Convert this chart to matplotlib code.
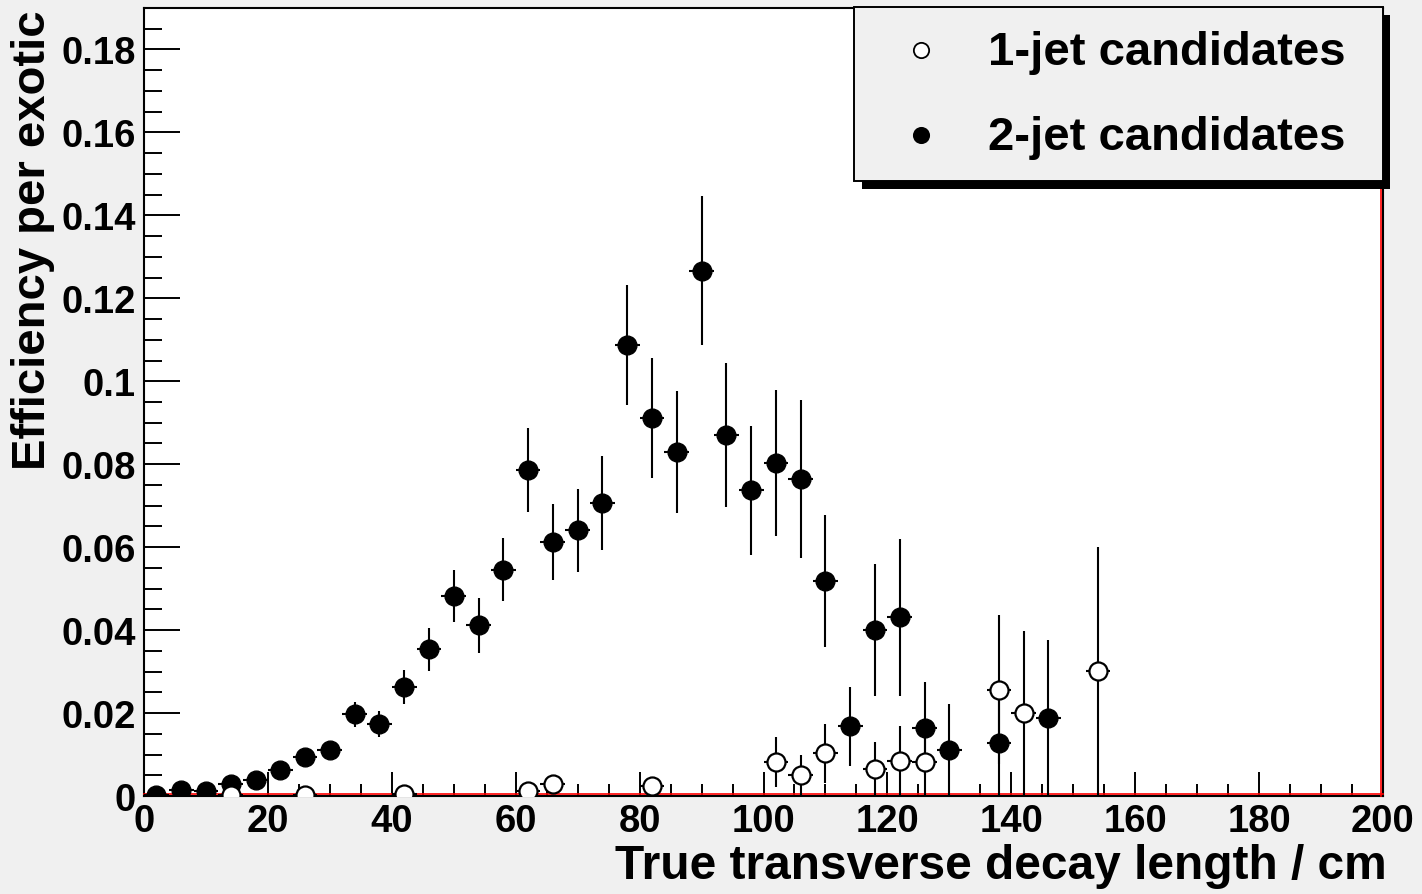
import matplotlib
matplotlib.use("Agg")
import matplotlib.pyplot as plt
from matplotlib.ticker import MultipleLocator, FuncFormatter
from matplotlib.patches import Rectangle
from matplotlib.lines import Line2D

# ---- data: bin centres (cm), efficiency and its uncertainty ----
half_bin = 2.0

x_two = [2, 6, 10, 14, 18, 22, 26, 30, 34, 38, 42, 46, 50, 54, 58, 62, 66, 70, 74,
         78, 82, 86, 90, 94, 98, 102, 106, 110, 114, 118, 122, 126, 130, 138, 146]
y_two = [0.0002, 0.0014, 0.0011, 0.0030, 0.0038, 0.0063, 0.0093, 0.0112, 0.0197,
         0.0174, 0.0263, 0.0354, 0.0482, 0.0412, 0.0545, 0.0786, 0.0612, 0.0641,
         0.0706, 0.1087, 0.0911, 0.0829, 0.1267, 0.0870, 0.0737, 0.0802, 0.0764,
         0.0518, 0.0168, 0.0400, 0.0431, 0.0163, 0.0112, 0.0128, 0.0188]
e_two = [0.0002, 0.0006, 0.0005, 0.0009, 0.0010, 0.0012, 0.0014, 0.0017, 0.0030,
         0.0032, 0.0041, 0.0052, 0.0063, 0.0066, 0.0076, 0.0101, 0.0092, 0.0100,
         0.0113, 0.0145, 0.0145, 0.0147, 0.0180, 0.0173, 0.0155, 0.0176, 0.0190,
         0.0159, 0.0095, 0.0160, 0.0189, 0.0112, 0.0111, 0.0128, 0.0188]

x_one = [14, 26, 42, 62, 66, 82, 102, 106, 110, 118, 122, 126, 138, 142, 154]
y_one = [0.0002, 0.0003, 0.0005, 0.0012, 0.0029, 0.0024, 0.0082, 0.0050, 0.0103,
         0.0066, 0.0084, 0.0081, 0.0256, 0.0200, 0.0301]
e_one = [0.0002, 0.0003, 0.0005, 0.0012, 0.0010, 0.0012, 0.0060, 0.0050, 0.0071,
         0.0065, 0.0085, 0.0081, 0.0180, 0.0198, 0.0300]

labels = ["1-jet candidates", "2-jet candidates"]
x_title = "True transverse decay length / cm"
y_title = "Efficiency per exotic"

plt.rcParams["font.family"] = ["Liberation Sans", "DejaVu Sans"]
plt.rcParams["font.weight"] = "bold"

W, H = 1422, 895
canvas_grey = "#f0f0f0"
fig = plt.figure(figsize=(W / 100, H / 100), dpi=100, facecolor=canvas_grey)
ax = fig.add_axes([144 / W, 1 - 797 / H, (1383 - 144) / W, (797 - 9) / H])
ax.set_facecolor("white")


def clipped_low(vals, errs):
    # efficiencies cannot go below zero
    return [min(v, e) for v, e in zip(vals, errs)]


ax.errorbar(x_two, y_two, xerr=half_bin, yerr=[clipped_low(y_two, e_two), e_two],
            fmt="o", ms=13.5, mfc="black", mec="black", ecolor="black",
            elinewidth=1.5, capsize=0, zorder=3)
ax.errorbar(x_one, y_one, xerr=half_bin, yerr=[clipped_low(y_one, e_one), e_one],
            fmt="o", ms=13, mfc="white", mec="black", mew=1.6, ecolor="black",
            elinewidth=1.5, capsize=0, zorder=4)

ax.set_xlim(0, 200)
ax.set_ylim(0, 0.19)

# red histogram frame lines along the bottom and right edge
off_y = 1.6 / 788
off_x = 1.6 / 1239
ax.plot([0, 1], [off_y, off_y], transform=ax.transAxes, color="red", lw=1.2,
        zorder=2.6, clip_on=False)
ax.plot([1 - off_x, 1 - off_x], [0, 1], transform=ax.transAxes, color="red", lw=1.2,
        zorder=2.6, clip_on=False)

for s in ax.spines.values():
    s.set_linewidth(1.5)
    s.set_color("black")

ax.xaxis.set_major_locator(MultipleLocator(20))
ax.xaxis.set_minor_locator(MultipleLocator(5))
ax.yaxis.set_major_locator(MultipleLocator(0.02))
ax.yaxis.set_minor_locator(MultipleLocator(0.005))
ax.yaxis.set_major_formatter(FuncFormatter(lambda v, p: "%g" % round(v, 4)))
ax.xaxis.set_major_formatter(FuncFormatter(lambda v, p: "%g" % v))

ax.tick_params(which="both", direction="in", top=False, right=False, width=1.4,
               labelsize=27.5, color="black")
ax.tick_params(axis="x", which="major", length=17, pad=5)
ax.tick_params(axis="x", which="minor", length=8.6)
ax.tick_params(axis="y", which="major", length=26, pad=6)
ax.tick_params(axis="y", which="minor", length=13)
for lab in ax.get_xticklabels() + ax.get_yticklabels():
    lab.set_fontweight("bold")

fig.text(1387 / W, 1 - 867 / H, x_title, ha="right", va="center",
         fontsize=34.5, fontweight="bold")
fig.text(33 / W, 1 - 10 / H, y_title, ha="center", va="top", rotation=90,
         fontsize=34, fontweight="bold")

# legend box with drop shadow, in pixel coordinates of the figure
def px_rect(x0, y0, x1, y1, **kw):
    return Rectangle((x0 / W, 1 - y1 / H), (x1 - x0) / W, (y1 - y0) / H,
                     transform=fig.transFigure, **kw)

fig.add_artist(px_rect(862, 16, 1390, 190, facecolor="black", edgecolor="none",
                       zorder=10))
fig.add_artist(px_rect(854, 8, 1383, 182, facecolor=canvas_grey, edgecolor="black",
                       lw=1.4, zorder=11))

legend_rows = [(51, "white"), (136, "black")]
for (yc, face), text in zip(legend_rows, labels):
    fig.add_artist(Line2D([921 / W], [1 - yc / H], transform=fig.transFigure,
                          marker="o", ms=11, mfc=face, mec="black", mew=1.3,
                          ls="none", zorder=12))
    fig.text(988 / W, 1 - (yc + 2) / H, text, ha="left", va="center", fontsize=34,
             fontweight="bold", zorder=12)

fig.savefig("out.png", dpi=100, facecolor=canvas_grey)
